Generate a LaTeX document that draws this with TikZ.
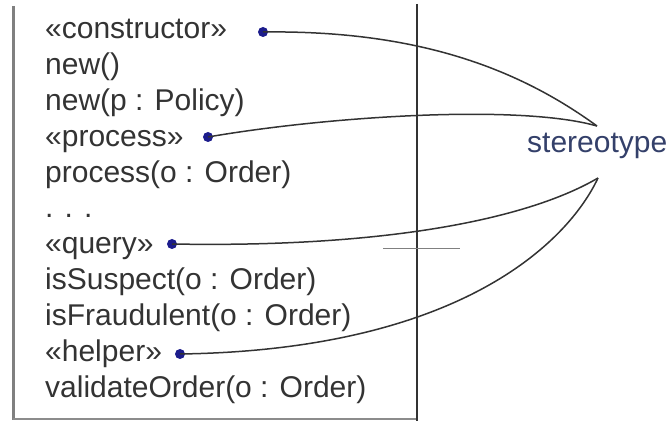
\documentclass[tikz,border=0pt]{standalone}
\usepackage{fontspec}
\setmainfont{Liberation Sans}
\usepackage{tikz}
\definecolor{inkgray}{HTML}{333333}
\definecolor{dotblue}{HTML}{1C1C8C}
\definecolor{labelblue}{HTML}{34406A}
\def\pitch{35.8}
\tikzset{member/.style={anchor=base west, inner sep=0pt, text=inkgray, font=\fontsize{30}{36}\selectfont}}
\tikzset{dot/.style={circle, fill=dotblue, inner sep=0pt, minimum size=10pt}}
\tikzset{link/.style={line width=1.5pt, black!80}}

\begin{document}
\begin{tikzpicture}[x=1pt, y=-1pt]
          \useasboundingbox (0,0) rectangle (670,422);
          % Box
          \draw[line width=3pt, gray] (13.5,6) -- (13.5,420);
          \draw[line width=2pt, gray!90] (13,419) -- (417,419);
          \draw[line width=1.5pt, black!80] (417,4) -- (417,421);

          % Members
          \foreach \n/\t [count=\i from 0] in {con/{«constructor»}, new/{new()},
              newp/{new(p : Policy)}, pro/{«process»}, proc/{process(o : Order)},
              more/{. . .}, que/{«query»}, susp/{isSuspect(o : Order)},
              frau/{isFraudulent(o : Order)}, hel/{«helper»}, vali/{validateOrder(o : Order)}}
            \node[member] (\n) at (45,{39+\pitch*\i}) {\t};

          % Stereotype dots
          \node[dot] (dcon) at (263,32) {};
          \node[dot] (dpro) at (208,137) {};
          \node[dot] (dque) at (172,244) {};
          \node[dot] (dhel) at (180,354) {};

          % Label
          \node[member, text=labelblue] (stereo) at (527,153) {stereotype};
          \coordinate (stUp) at (597,126);
          \coordinate (stLo) at (598,178);

          % Links
          \draw[link] (dcon.center) .. controls (420,30) and (520,70) .. (stUp);
          \draw[link] (dpro.center) .. controls (330,116) and (520,104) .. (stUp);
          \draw[link] (dque.center) .. controls (390,248) and (530,218) .. (stLo);
          \draw[link] (dhel.center) .. controls (460,350) and (568,242) .. (stLo);
          \draw[gray, line width=1pt] (383,249) -- (460,249);
        \end{tikzpicture}
\end{document}
